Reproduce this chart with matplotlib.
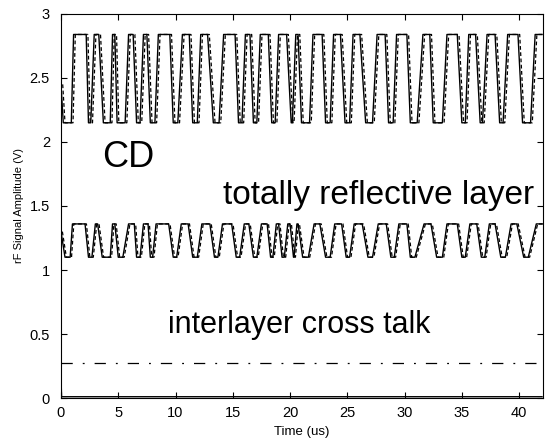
import matplotlib
matplotlib.use("Agg")
import matplotlib.pyplot as plt
import numpy as np

# ---- data ----
# CD signal: plateaus (start, end) in us, alternating low/high, starting with low
cd_start = (0.0, 2.45)
cd_levels = (2.15, 2.84)   # low, high
cd_plateaus = [(0.2, 0.9), (1.1, 2.2), (2.4, 2.6), (2.9, 3.3), (3.7, 4.3), (4.5, 4.7),
               (4.9, 5.6), (5.9, 6.3), (6.6, 6.9), (7.2, 7.5), (7.8, 8.2), (8.5, 9.5),
               (9.8, 10.2), (10.6, 11.2), (11.5, 11.9), (12.2, 12.8), (13.3, 13.8),
               (14.2, 15.2), (15.5, 15.8), (16.1, 16.5), (16.8, 17.1), (17.4, 18.1),
               (18.4, 18.7), (19.0, 19.7), (20.1, 20.2), (20.5, 20.7), (21.0, 21.7),
               (22.0, 22.8), (23.1, 23.5), (23.8, 24.4), (24.8, 25.2), (25.5, 26.1),
               (26.6, 27.2), (27.6, 28.3), (28.6, 29.0), (29.3, 30.2), (30.5, 31.1),
               (31.6, 32.2), (32.5, 33.3), (33.7, 34.6), (35.0, 35.3), (35.6, 36.2),
               (36.6, 36.8), (37.2, 37.9), (38.3, 38.6), (39.0, 39.9), (40.3, 41.0),
               (41.4, 42.0)]

# totally reflective layer signal
rl_start = (0.0, 1.30)
rl_levels = (1.10, 1.36)
rl_plateaus = [(0.35, 0.8), (1.0, 2.1), (2.4, 2.7), (3.0, 3.2), (3.6, 4.3), (4.5, 4.7),
               (5.0, 5.4), (5.9, 6.4), (6.6, 6.9), (7.2, 7.6), (7.8, 8.0), (8.3, 9.4),
               (9.8, 10.1), (10.5, 11.1), (11.5, 11.9), (12.3, 13.0), (13.4, 13.7),
               (14.1, 14.9), (15.3, 15.6), (16.0, 16.4), (16.8, 17.1), (17.5, 18.0),
               (18.3, 18.5), (18.8, 19.0), (19.3, 19.5), (19.8, 20.0), (20.3, 20.35),
               (20.6, 20.7), (21.1, 21.6), (22.1, 22.6), (23.1, 23.5), (23.9, 24.5),
               (24.9, 25.2), (25.6, 26.3), (26.8, 27.2), (27.7, 28.4), (28.8, 29.1),
               (29.5, 30.2), (30.5, 30.9), (31.7, 32.3), (32.8, 33.3), (33.7, 34.6),
               (35.0, 35.3), (35.7, 36.3), (36.7, 37.0), (37.4, 37.9), (38.4, 38.8),
               (39.3, 39.8), (40.4, 40.8), (41.5, 42.0)]

# interlayer cross talk
ct_t = [0.0, 42.0]
ct_v = [0.27, 0.27]
# baseline trace
bl_t = [0.0, 0.05, 42.0]
bl_v = [0.16, 0.01, 0.01]

x_ticks = [0, 5, 10, 15, 20, 25, 30, 35, 40]
y_ticks = [0, 0.5, 1, 1.5, 2, 2.5, 3]
y_ticklabels = ["0", "0.5", "1", "1.5", "2", "2.5", "3"]


def corners(start, levels, plateaus):
    t = [start[0]]
    v = [start[1]]
    for i, (a, b) in enumerate(plateaus):
        lev = levels[i % 2]
        t += [a, b]
        v += [lev, lev]
    return np.array(t), np.array(v)


plt.rcParams['font.family'] = ['Liberation Sans', 'DejaVu Sans']
fig = plt.figure(figsize=(5.47, 4.47), dpi=100)
ax = fig.add_axes([0.1115, 0.1096, 0.8815, 0.8591])

cd_t, cd_v = corners(cd_start, cd_levels, cd_plateaus)
rl_t, rl_v = corners(rl_start, rl_levels, rl_plateaus)

ax.plot(cd_t, cd_v, color='black', lw=1.0, solid_joinstyle='round')
ax.plot(cd_t + 0.15, cd_v, color='black', lw=0.9, ls=(0, (3, 2)))
ax.plot(rl_t, rl_v, color='black', lw=1.0, solid_joinstyle='round')
ax.plot(rl_t + 0.12, rl_v, color='black', lw=0.9, ls=(0, (3, 2)))
ax.plot(ct_t, ct_v, color='black', lw=0.9, ls=(0, (9, 8, 1.5, 8)))
ax.plot(bl_t, bl_v, color='black', lw=1.0)

ax.set_xlim(0, 42.1)
ax.set_ylim(0, 3)
ax.set_xticks(x_ticks)
ax.set_yticks(y_ticks)
ax.set_yticklabels(y_ticklabels)
ax.tick_params(direction='in', top=True, right=True, length=4, width=0.8,
               labelsize=10.5)
ax.tick_params(axis='x', pad=6)
ax.tick_params(axis='y', pad=8)
for s in ax.spines.values():
    s.set_linewidth(0.8)

ax.set_xlabel("Time (us)", fontsize=9.5, labelpad=4)
ax.set_ylabel("rF Signal Amplitude (V)", fontsize=8, labelpad=4)

ax.text(5.9, 1.88, "CD", fontsize=26, ha='center', va='center')
ax.text(27.7, 1.58, "totally reflective layer", fontsize=24, ha='center', va='center')
ax.text(20.8, 0.57, "interlayer cross talk", fontsize=22, ha='center', va='center')

fig.savefig("out.png", dpi=100)
